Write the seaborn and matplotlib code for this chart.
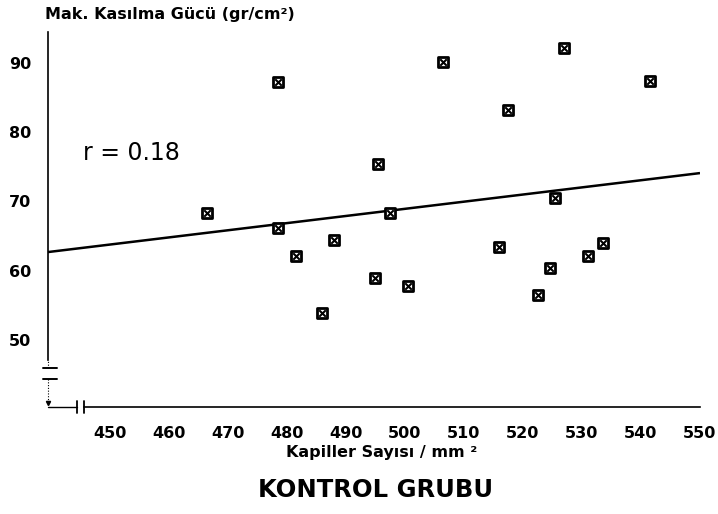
import matplotlib
matplotlib.use("Agg")
import matplotlib.pyplot as plt
import seaborn as sns
import pandas as pd

# ---- data ----
kapiller = [466.5, 478.5, 478.5, 481.5, 486.0, 488.0, 495.0, 495.5, 497.5, 500.5,
            506.5, 516.0, 517.5, 522.5, 524.5, 525.5, 527.0, 531.0, 533.5, 541.5]
kasilma = [68.3, 87.3, 66.2, 62.1, 53.9, 64.4, 58.9, 75.4, 68.4, 57.8,
           90.1, 63.4, 83.2, 56.5, 60.4, 70.5, 92.1, 62.1, 64.0, 87.4]
reg_x = [439.5, 550.0]
reg_y = [62.7, 74.1]
xticks = [450, 460, 470, 480, 490, 500, 510, 520, 530, 540, 550]
yticks = [50, 60, 70, 80, 90]

df = pd.DataFrame({"x": kapiller, "y": kasilma})

sns.set_style("white")
plt.rcParams["font.family"] = ["DejaVu Sans"]

W, H = 718, 514
fig = plt.figure(figsize=(W / 100, H / 100), dpi=100)
ax = fig.add_axes([48 / W, 1 - 407 / H, 652 / W, 375 / H])

ax.plot(reg_x, reg_y, color="black", lw=1.8, solid_capstyle="butt")
sns.scatterplot(data=df, x="x", y="y", ax=ax, marker="s", s=60,
                facecolor="white", edgecolor="black", linewidth=2.0, zorder=3)
sns.scatterplot(data=df, x="x", y="y", ax=ax, marker="x", s=22,
                color="black", linewidth=1.5, zorder=4)

ax.set_xlim(439.5, 550.0)
ax.set_ylim(40.33, 94.47)
ax.set_xticks(xticks)
ax.set_yticks(yticks)
ax.set_xlabel("")
ax.set_ylabel("")

for s in ["top", "right"]:
    ax.spines[s].set_visible(False)
for s in ["left", "bottom"]:
    ax.spines[s].set_color("black")
    ax.spines[s].set_linewidth(1.2)
ax.spines["left"].set_bounds(47.1, 94.47)
ax.spines["bottom"].set_bounds(445.6, 550.0)

ax.tick_params(axis="both", direction="out", length=5, width=1.1, color="black",
               labelsize=11.5, labelcolor="black")
ax.tick_params(axis="x", pad=9)
ax.tick_params(axis="y", pad=7)
for lab in ax.get_xticklabels() + ax.get_yticklabels():
    lab.set_fontweight("bold")

# axis break decorations (axes fraction coordinates)
T = ax.transAxes
kw = dict(transform=T, color="black", clip_on=False)
ax.plot([0, 0], [0.104, 0.1253], lw=0.8, ls=(0, (1, 1.5)), **kw)
ax.plot([-0.007, 0.014], [0.104, 0.104], lw=1.4, **kw)
ax.plot([-0.007, 0.014], [0.0747, 0.0747], lw=1.4, **kw)
ax.plot([0, 0], [0.0747, 0.01], lw=0.8, ls=(0, (1, 1.5)), **kw)
ax.plot([0], [0.012], marker="v", ms=3, **kw)
ax.plot([0, 0.0445], [0, 0], lw=1.0, **kw)
ax.plot([0.0445, 0.0445], [-0.016, 0.016], lw=1.3, **kw)
ax.plot([0.0552, 0.0552], [-0.016, 0.016], lw=1.3, **kw)

# texts
fig.text(45 / W, 1 - 15 / H, "Mak. Kasılma Gücü (gr/cm²)", ha="left", va="center",
         fontsize=11.5, fontweight="bold", color="black")
fig.text(382 / W, 1 - 453 / H, "Kapiller Sayısı / mm ²", ha="center", va="center",
         fontsize=11.5, fontweight="bold", color="black")
fig.text(376 / W, 1 - 490 / H, "KONTROL GRUBU", ha="center", va="center",
         fontsize=17.5, fontweight="bold", color="black")
fig.text(83 / W, 1 - 153 / H, "r = 0.18", ha="left", va="center",
         fontsize=17, color="black")

fig.savefig("out.png", dpi=100, facecolor="white")
